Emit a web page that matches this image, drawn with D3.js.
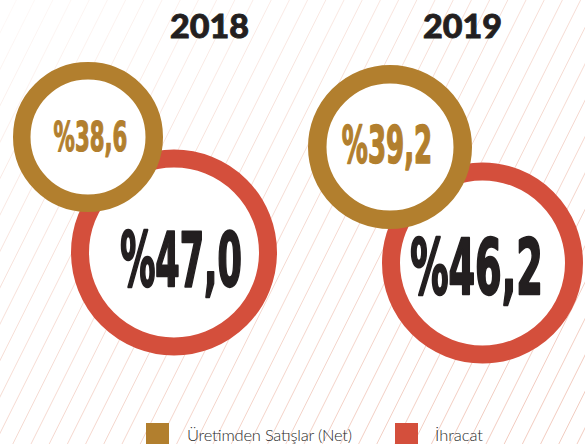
<!DOCTYPE html>
<html>
<head>
<meta charset="utf-8">
<script src="https://cdn.jsdelivr.net/npm/d3@7"></script>
<style>
  html, body { margin: 0; padding: 0; background: #fff; }
  svg { display: block; }
</style>
</head>
<body>
<svg id="chart" width="585" height="444"></svg>
<script>
// data
var years = ["2018", "2019"];
var seriesNames = ["Üretimden Satışlar (Net)", "İhracat"];
var salesValues = [38.6, 39.2];    // Üretimden Satışlar (Net), %
var exportValues = [47.0, 46.2];   // İhracat, %

var colors = ["#b27f2e", "#d44f3c"];

// layout of the two bubbles per year (infographic placement, not data)
var layout = {
  sales:  { cx: [88, 390],  cy: [137, 147],   r: [75, 82],    sw: [17.5, 18.5],
            tx: [53, 341],  base: [152, 164], tw: [75, 92],   fs: [42, 53], ow: [1.2, 1.5] },
  exp:    { cx: [174, 482.5], cy: [252.5, 263], r: [103, 100.5], sw: [18, 18],
            tx: [119, 409], base: [287, 295], tw: [124, 135], fs: [77, 79], ow: [2.4, 2.4] }
};

var svg = d3.select("#chart");
var W = 585, H = 444;

// striped background, fading out toward the upper left
var defs = svg.append("defs");
var grad = defs.append("linearGradient").attr("id", "fade")
  .attr("x1", "0").attr("y1", "0").attr("x2", "0.8").attr("y2", "1");
grad.append("stop").attr("offset", "0").attr("stop-color", "#fff").attr("stop-opacity", 0.1);
grad.append("stop").attr("offset", "0.4").attr("stop-color", "#fff").attr("stop-opacity", 0.6);
grad.append("stop").attr("offset", "1").attr("stop-color", "#fff").attr("stop-opacity", 1);
var mask = defs.append("mask").attr("id", "stripeMask");
mask.append("rect").attr("width", W).attr("height", H).attr("fill", "url(#fade)");

var slope = 0.5; // dx per dy
var stripes = svg.append("g").attr("mask", "url(#stripeMask)");
stripes.selectAll("line")
  .data(d3.range(-20, W + H * slope + 20, 18.2))
  .enter().append("line")
  .attr("x1", d => d).attr("y1", 0)
  .attr("x2", d => d - H * slope).attr("y2", H)
  .attr("stroke", "#f1c6b9")
  .attr("stroke-width", 0.9);

// year titles
var xYear = d3.scalePoint().domain(years).range([209.5, 462.5]);
svg.selectAll("text.year")
  .data(years)
  .enter().append("text")
  .attr("class", "year")
  .attr("x", d => xYear(d) - 39.5)
  .attr("y", 38)
  .attr("textLength", 79)
  .attr("lengthAdjust", "spacingAndGlyphs")
  .attr("font-family", "Lato, 'DejaVu Sans', sans-serif")
  .attr("font-weight", 900)
  .attr("font-size", 32)
  .attr("fill", "#231f20")
  .attr("stroke", "#231f20")
  .attr("stroke-width", 0.8)
  .text(d => d);

var fmt = v => "%" + d3.format(".1f")(v).replace(".", ",");

function drawSeries(values, L, color, textColor, cls) {
  var g = svg.append("g").attr("class", cls);
  var items = values.map((v, i) => ({ v: v, i: i }));
  g.selectAll("circle")
    .data(items)
    .enter().append("circle")
    .attr("cx", d => L.cx[d.i])
    .attr("cy", d => L.cy[d.i])
    .attr("r", d => L.r[d.i] - L.sw[d.i] / 2)
    .attr("fill", "#fff")
    .attr("stroke", color)
    .attr("stroke-width", d => L.sw[d.i]);
  g.selectAll("text")
    .data(items)
    .enter().append("text")
    .attr("x", d => L.tx[d.i] + L.ow[d.i] / 2)
    .attr("y", d => L.base[d.i] - L.ow[d.i] / 2)
    .attr("textLength", d => L.tw[d.i] - L.ow[d.i])
    .attr("lengthAdjust", "spacingAndGlyphs")
    .attr("font-family", "'Liberation Sans Narrow', 'DejaVu Sans Condensed', sans-serif")
    .attr("font-weight", "bold")
    .attr("font-size", d => L.fs[d.i] - L.ow[d.i])
    .attr("fill", textColor)
    .attr("stroke", textColor)
    .attr("stroke-width", d => L.ow[d.i])
    .attr("stroke-linejoin", "round")
    .text(d => fmt(d.v));
}

drawSeries(exportValues, layout.exp, colors[1], "#231f20", "export");
drawSeries(salesValues, layout.sales, colors[0], colors[0], "sales");

// legend
var legX = [146, 395], legTx = [187, 435], legTw = [165, 48];
var leg = svg.append("g").attr("class", "legend");
leg.selectAll("rect")
  .data(seriesNames)
  .enter().append("rect")
  .attr("x", (d, i) => legX[i]).attr("y", 423)
  .attr("width", 23).attr("height", 23)
  .attr("fill", (d, i) => colors[i]);
leg.selectAll("text")
  .data(seriesNames)
  .enter().append("text")
  .attr("x", (d, i) => legTx[i]).attr("y", 441)
  .attr("textLength", (d, i) => legTw[i])
  .attr("lengthAdjust", "spacing")
  .attr("font-family", "Lato, 'Open Sans', sans-serif")
  .attr("font-weight", 300)
  .attr("font-size", 16.5)
  .attr("fill", "#2a2a2a")
  .text(d => d);
</script>
</body>
</html>
